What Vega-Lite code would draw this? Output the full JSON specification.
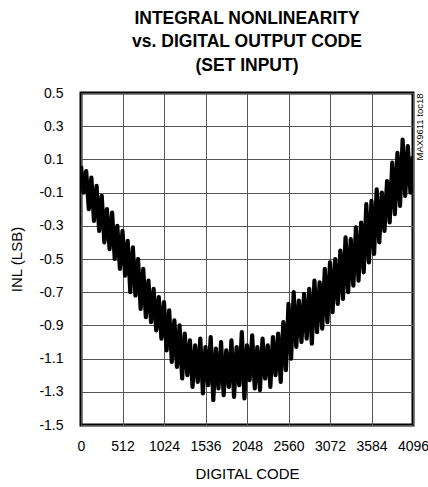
{
  "$schema": "https://vega.github.io/schema/vega-lite/v6.json",
  "width": 332,
  "height": 332,
  "autosize": "none",
  "padding": {"left": 81, "top": 93, "right": 15, "bottom": 62},
  "background": "white",
  "config": {
    "view": {"stroke": "black", "strokeWidth": 3},
    "font": "Liberation Sans, Arial, sans-serif"
  },
  "title": {
    "text": ["INTEGRAL NONLINEARITY", "vs. DIGITAL OUTPUT CODE", "(SET INPUT)"],
    "font": "Liberation Sans, Arial, sans-serif",
    "fontSize": 17.5,
    "fontWeight": "bold",
    "lineHeight": 23.5,
    "anchor": "middle",
    "offset": 12,
    "color": "black"
  },
  "data": {
    "values": [
      {"code": 0, "inl": 0.06}, {"code": 32, "inl": -0.10}, {"code": 64, "inl": 0.03}, {"code": 96, "inl": -0.20},
      {"code": 128, "inl": -0.01}, {"code": 160, "inl": -0.27}, {"code": 192, "inl": -0.06}, {"code": 224, "inl": -0.33},
      {"code": 256, "inl": -0.12}, {"code": 288, "inl": -0.40}, {"code": 320, "inl": -0.20}, {"code": 352, "inl": -0.44},
      {"code": 384, "inl": -0.22}, {"code": 416, "inl": -0.50}, {"code": 448, "inl": -0.30}, {"code": 480, "inl": -0.56},
      {"code": 512, "inl": -0.33}, {"code": 544, "inl": -0.60}, {"code": 576, "inl": -0.39}, {"code": 608, "inl": -0.70},
      {"code": 640, "inl": -0.43}, {"code": 672, "inl": -0.72}, {"code": 704, "inl": -0.50}, {"code": 736, "inl": -0.80},
      {"code": 768, "inl": -0.56}, {"code": 800, "inl": -0.85}, {"code": 832, "inl": -0.63}, {"code": 864, "inl": -0.88},
      {"code": 896, "inl": -0.68}, {"code": 928, "inl": -0.93}, {"code": 960, "inl": -0.73}, {"code": 992, "inl": -0.98},
      {"code": 1024, "inl": -0.76}, {"code": 1056, "inl": -1.05}, {"code": 1088, "inl": -0.81}, {"code": 1120, "inl": -1.12},
      {"code": 1152, "inl": -0.87}, {"code": 1184, "inl": -1.15}, {"code": 1216, "inl": -0.90}, {"code": 1248, "inl": -1.22},
      {"code": 1280, "inl": -0.95}, {"code": 1312, "inl": -1.20}, {"code": 1344, "inl": -0.99}, {"code": 1376, "inl": -1.27},
      {"code": 1408, "inl": -1.02}, {"code": 1440, "inl": -1.24}, {"code": 1472, "inl": -0.98}, {"code": 1504, "inl": -1.31},
      {"code": 1536, "inl": -1.03}, {"code": 1568, "inl": -1.26}, {"code": 1600, "inl": -0.97}, {"code": 1632, "inl": -1.35},
      {"code": 1664, "inl": -1.04}, {"code": 1696, "inl": -1.28}, {"code": 1728, "inl": -1.00}, {"code": 1760, "inl": -1.32},
      {"code": 1792, "inl": -1.05}, {"code": 1824, "inl": -1.27}, {"code": 1856, "inl": -0.99}, {"code": 1888, "inl": -1.33},
      {"code": 1920, "inl": -1.03}, {"code": 1952, "inl": -1.26}, {"code": 1984, "inl": -0.94}, {"code": 2016, "inl": -1.34},
      {"code": 2048, "inl": -1.02}, {"code": 2080, "inl": -1.23}, {"code": 2112, "inl": -0.96}, {"code": 2144, "inl": -1.28},
      {"code": 2176, "inl": -1.03}, {"code": 2208, "inl": -1.29}, {"code": 2240, "inl": -0.98}, {"code": 2272, "inl": -1.22},
      {"code": 2304, "inl": -1.02}, {"code": 2336, "inl": -1.27}, {"code": 2368, "inl": -0.97}, {"code": 2400, "inl": -1.20},
      {"code": 2432, "inl": -0.95}, {"code": 2464, "inl": -1.24}, {"code": 2496, "inl": -0.88}, {"code": 2528, "inl": -1.17},
      {"code": 2560, "inl": -0.77}, {"code": 2592, "inl": -1.10}, {"code": 2624, "inl": -0.70}, {"code": 2656, "inl": -1.03},
      {"code": 2688, "inl": -0.75}, {"code": 2720, "inl": -1.00}, {"code": 2752, "inl": -0.71}, {"code": 2784, "inl": -0.98},
      {"code": 2816, "inl": -0.68}, {"code": 2848, "inl": -1.01}, {"code": 2880, "inl": -0.63}, {"code": 2912, "inl": -0.94},
      {"code": 2944, "inl": -0.64}, {"code": 2976, "inl": -0.92}, {"code": 3008, "inl": -0.56}, {"code": 3040, "inl": -0.88},
      {"code": 3072, "inl": -0.52}, {"code": 3104, "inl": -0.82}, {"code": 3136, "inl": -0.50}, {"code": 3168, "inl": -0.77},
      {"code": 3200, "inl": -0.45}, {"code": 3232, "inl": -0.74}, {"code": 3264, "inl": -0.37}, {"code": 3296, "inl": -0.70},
      {"code": 3328, "inl": -0.38}, {"code": 3360, "inl": -0.66}, {"code": 3392, "inl": -0.31}, {"code": 3424, "inl": -0.63},
      {"code": 3456, "inl": -0.28}, {"code": 3488, "inl": -0.58}, {"code": 3520, "inl": -0.17}, {"code": 3552, "inl": -0.52},
      {"code": 3584, "inl": -0.15}, {"code": 3616, "inl": -0.47}, {"code": 3648, "inl": -0.08}, {"code": 3680, "inl": -0.40},
      {"code": 3712, "inl": -0.10}, {"code": 3744, "inl": -0.33}, {"code": 3776, "inl": -0.03}, {"code": 3808, "inl": -0.28},
      {"code": 3840, "inl": 0.08}, {"code": 3872, "inl": -0.23}, {"code": 3904, "inl": 0.14}, {"code": 3936, "inl": -0.18},
      {"code": 3968, "inl": 0.22}, {"code": 4000, "inl": -0.12}, {"code": 4032, "inl": 0.18}, {"code": 4064, "inl": -0.10},
      {"code": 4096, "inl": 0.12}
    ]
  },
  "layer": [
    {
      "mark": {"type": "line", "color": "black", "strokeWidth": 4.2, "strokeJoin": "round", "clip": true},
      "encoding": {
        "x": {
          "field": "code", "type": "quantitative",
          "scale": {"domain": [0, 4096], "nice": false, "zero": false},
          "axis": {
            "values": [0, 512, 1024, 1536, 2048, 2560, 3072, 3584, 4096],
            "format": "d",
            "title": "DIGITAL CODE",
            "titleFontSize": 15, "titleFontWeight": "normal", "titleColor": "black", "titlePadding": 13,
            "labelFontSize": 14, "labelColor": "black", "labelPadding": 14,
            "labelOverlap": false, "labelFlush": false,
            "ticks": false, "tickSize": 0, "domain": false,
            "grid": true, "gridColor": "#555555", "gridWidth": 1
          }
        },
        "y": {
          "field": "inl", "type": "quantitative",
          "scale": {"domain": [-1.5, 0.5], "nice": false, "zero": false},
          "axis": {
            "values": [-1.5, -1.3, -1.1, -0.9, -0.7, -0.5, -0.3, -0.1, 0.1, 0.3, 0.5],
            "format": ".1f",
            "labelExpr": "replace(datum.label, '\u2212', '-')",
            "title": "INL (LSB)",
            "titleFontSize": 15, "titleFontWeight": "normal", "titleColor": "black", "titlePadding": 14,
            "labelFontSize": 14, "labelColor": "black", "labelPadding": 18,
            "labelOverlap": false, "labelFlush": false,
            "ticks": false, "tickSize": 0, "domain": false,
            "grid": true, "gridColor": "#555555", "gridWidth": 1
          }
        }
      }
    },
    {
      "mark": {"type": "point", "opacity": 0},
      "encoding": {
        "y": {
          "field": "inl", "type": "quantitative",
          "axis": {
            "orient": "right",
            "title": "MAX9611 toc18",
            "titleFontSize": 9.5, "titleFontWeight": "normal", "titleColor": "black",
            "titleAngle": 270, "titleAnchor": "end", "titleAlign": "right", "titleBaseline": "middle",
            "titlePadding": 6,
            "labels": false, "ticks": false, "domain": false, "grid": false
          }
        }
      }
    }
  ],
  "resolve": {"axis": {"y": "independent"}}
}
